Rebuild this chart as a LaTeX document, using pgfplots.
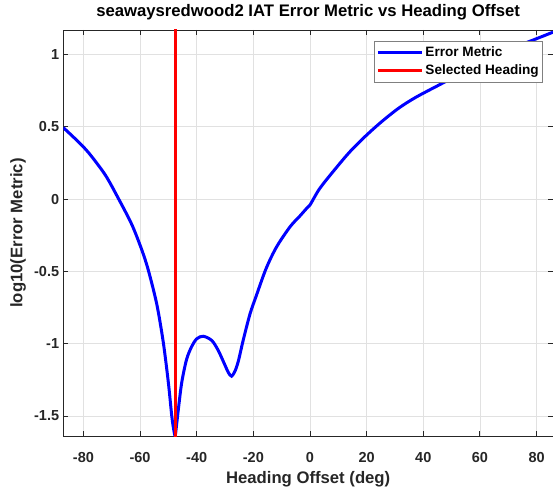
\documentclass[border=0pt]{standalone}
\usepackage{fontspec}
\setmainfont{Liberation Sans}
\usepackage{pgfplots}
\pgfplotsset{compat=1.18}
\definecolor{axgray}{RGB}{38,38,38}
\definecolor{gridgray}{RGB}{225,225,225}
\definecolor{mblue}{RGB}{0,0,255}
\definecolor{mred}{RGB}{255,0,0}
\begin{document}
\begin{tikzpicture}
\begin{axis}[
  at={(0pt,0pt)}, anchor=south west,
  scale only axis, width=489.7pt, height=406pt,
  xmin=-87.1, xmax=85.8, ymin=-1.638, ymax=1.17,
  xtick={-80,-60,-40,-20,0,20,40,60,80},
  xticklabels={-80,-60,-40,-20,0,20,40,60,80},
  ytick={-1.5,-1,-0.5,0,0.5,1},
  yticklabels={-1.5,-1,-0.5,0,0.5,1},
  grid=major,
  major grid style={gridgray, line width=0.8pt},
  axis line style={axgray, line width=0.9pt},
  tick style={axgray, line width=0.9pt},
  major tick length=5pt,
  tick align=inside,
  xtick pos=both, ytick pos=both,
  ticklabel style={font=\fontsize{14.5}{17}\selectfont\bfseries, text=axgray},
  xticklabel style={anchor=base, yshift=-26pt, inner sep=0pt},
  yticklabel style={anchor=east, inner sep=0pt, xshift=-4pt},
  title={seawaysredwood2 IAT Error Metric vs Heading Offset},
  title style={font=\fontsize{16.7}{20}\selectfont\bfseries, at={(axis description cs:0.5,1.0185)}, anchor=base, inner sep=0pt},
  xlabel={Heading Offset (deg)},
  ylabel={log10(Error Metric)},
  xlabel style={font=\fontsize{16.7}{20}\selectfont\bfseries, text=axgray, at={(axis description cs:0.5,-0.1182)}, anchor=base, inner sep=0pt},
  ylabel style={font=\fontsize{16.7}{20}\selectfont\bfseries, text=axgray, at={(axis description cs:-0.0837,0.5)}, anchor=base, inner sep=0pt},
  legend style={at={(rel axis cs:0.980,0.9737)}, anchor=north east,
    draw=black!50, line width=0.8pt, fill=white,
    font=\fontsize{13.6}{16}\selectfont\bfseries,
    inner xsep=2pt, inner ysep=2pt, row sep=0pt,
    nodes={inner sep=2pt, text height=11pt, text depth=3.6pt}},
  legend cell align=left,
  legend image code/.code={\draw[#1, line width=3pt] (0pt,0pt) -- (44pt,0pt);},
  clip=true,
]
\addplot[mblue, line width=3pt, smooth, tension=0.5] coordinates {
(-87.1,0.495) (-82.5,0.41) (-78.2,0.322) (-72.3,0.168) (-67.6,0.003)
(-62.9,-0.176) (-59.4,-0.35) (-57.1,-0.49) (-54.1,-0.726) (-51.8,-0.99)
(-50.0,-1.27) (-48.8,-1.5) (-48.1,-1.595) (-47.6,-1.635) (-47.1,-1.56)
(-46.5,-1.457) (-45.3,-1.27) (-43.6,-1.11) (-41.8,-1.02) (-40.0,-0.966)
(-37.7,-0.948) (-34.7,-0.977) (-32.4,-1.046) (-30.0,-1.149) (-28.8,-1.20)
(-27.7,-1.224) (-26.5,-1.19) (-25.3,-1.12) (-23.6,-0.977) (-21.2,-0.795)
(-19.0,-0.67) (-15.5,-0.48) (-11.8,-0.33) (-7.0,-0.19) (-3.5,-0.115)
(-1.2,-0.064) (0.0,-0.04) (3.3,0.07) (8.0,0.187) (13.9,0.324)
(19.7,0.438) (25.6,0.541) (31.5,0.632) (37.4,0.705) (45.6,0.79)
(50.0,0.835) (55.0,0.885) (60.0,0.935) (65.0,0.983) (70.0,1.028)
(74.0,1.064) (80.0,1.11) (85.8,1.155)
};
\addlegendentry{Error Metric}
\addplot[mred, line width=3pt] coordinates {(-47.6,-1.8) (-47.6,1.3)};
\addlegendentry{Selected Heading}
\end{axis}
\pgfresetboundingbox
\path (-63.3pt,-52pt) rectangle (489.7pt,436pt);
\end{tikzpicture}
\end{document}
